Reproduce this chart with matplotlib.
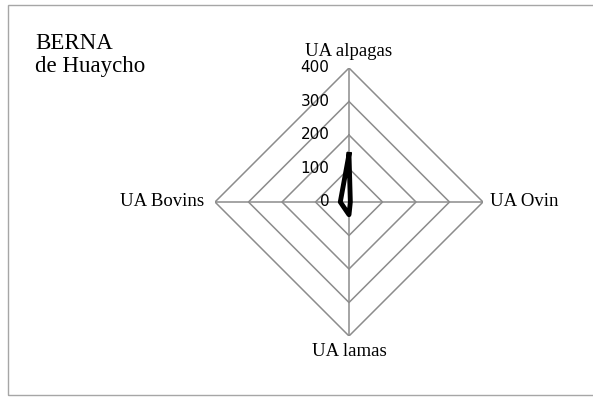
import numpy as np
import matplotlib.pyplot as plt
from matplotlib.patches import Rectangle

############################# DATA ###################################
categories = ['UA alpagas', 'UA Ovin', 'UA lamas', 'UA Bovins']
values = [142, 4, 38, 26]
r_ticks = [0, 100, 200, 300, 400]
title_lines = ['BERNA', 'de Huaycho']

W, H = 593, 397
fig = plt.figure(figsize=(W / 100, H / 100), dpi=100)

# light grey frame around the chart (right edge runs off the picture)
fig.patches.append(Rectangle((8 / W, 2 / H), (W + 10 - 8) / W, 390 / H,
                             transform=fig.transFigure, fill=False,
                             edgecolor='#a6a6a6', lw=1.0))

# centre (349, 202), radius 134 px
cx, cy, rad = 349, 202, 134
ax = fig.add_axes([(cx - rad) / W, (H - cy - rad) / H, 2 * rad / W, 2 * rad / H],
                  projection='polar')
ax.set_theta_zero_location('N')
ax.set_theta_direction(-1)
ax.set_ylim(0, r_ticks[-1])
ax.grid(False)
ax.spines['polar'].set_visible(False)
ax.set_xticks([])
ax.set_yticks([])
ax.patch.set_alpha(0)

n = len(categories)
theta = np.linspace(0, 2 * np.pi, n, endpoint=False)
theta_c = np.append(theta, theta[0])

# diamond gridlines and spokes
for r in r_ticks[1:]:
    ax.plot(theta_c, [r] * (n + 1), color='#8c8c8c', lw=1.1, zorder=1)
for t in theta:
    ax.plot([t, t], [0, r_ticks[-1]], color='#8c8c8c', lw=1.1, zorder=1)

# series
vals = np.append(values, values[0])
ax.plot(theta_c, vals, color='black', lw=3.5, solid_joinstyle='round', zorder=5)

# radial tick labels
for r in r_ticks:
    ax.annotate(str(r), xy=(0, r), xytext=(-14, 0), textcoords='offset points',
                ha='right', va='center', fontsize=11, family='DejaVu Sans',
                color='black', zorder=6)

# category labels
offs = [(0, 6, 'center', 'bottom'), (5, 0, 'left', 'center'),
        (0, -5, 'center', 'top'), (-8, 0, 'right', 'center')]
for t, lab, (dx, dy, ha, va) in zip(theta, categories, offs):
    ax.annotate(lab, xy=(t, r_ticks[-1]), xytext=(dx, dy), textcoords='offset points',
                ha=ha, va=va, fontsize=13.5, family='Liberation Serif')

fig.text(35 / W, 1 - 55 / H, '\n'.join(title_lines), ha='left', va='center',
         fontsize=16.5, family='Liberation Serif', linespacing=1.1)

fig.savefig('out.png', dpi=100)
